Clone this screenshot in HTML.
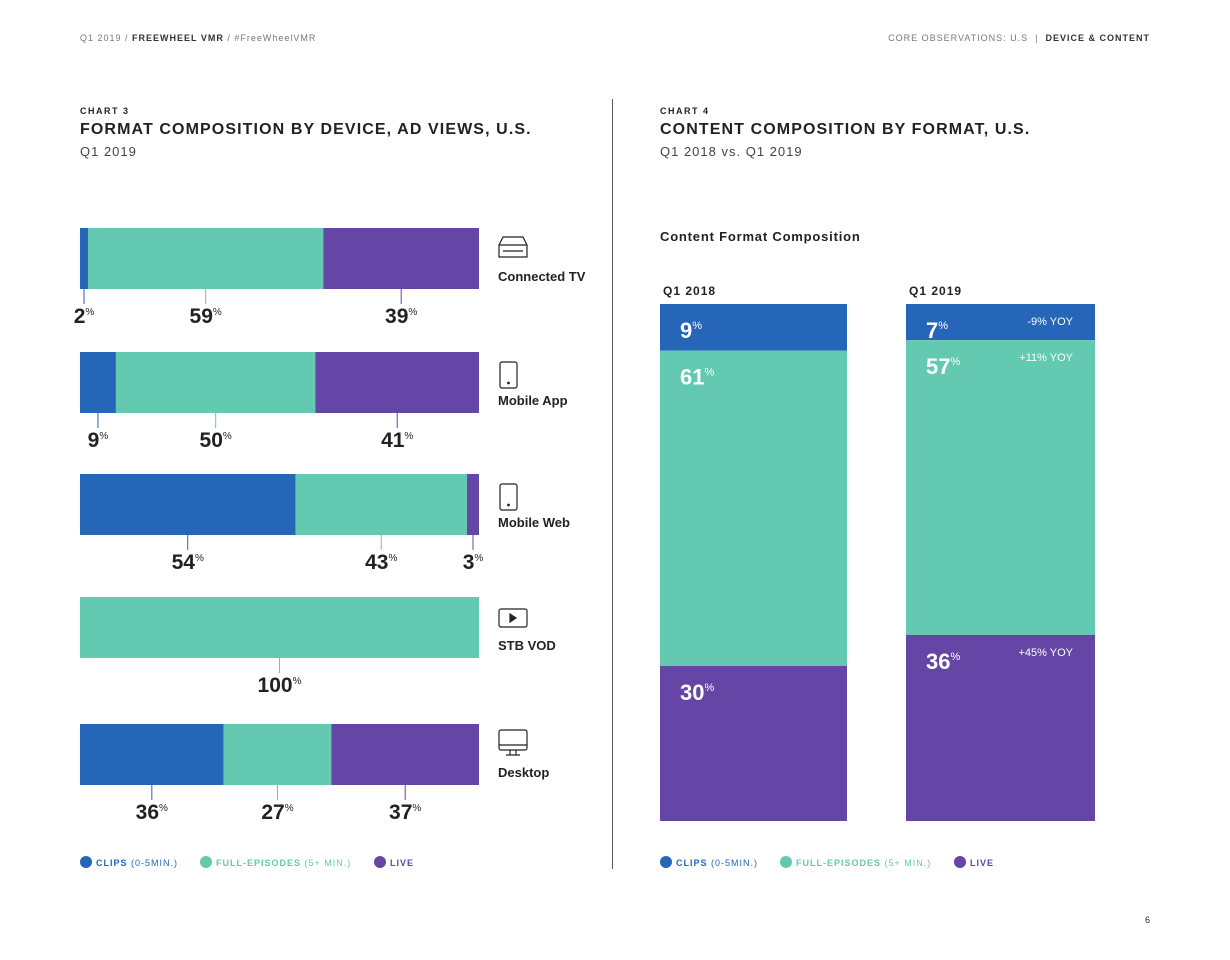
<!DOCTYPE html>
<html><head><meta charset="utf-8"><style>
body{margin:0;width:1230px;height:960px;background:#fff;font-family:"Liberation Sans",sans-serif;position:relative;overflow:hidden;color:#222}
.a{position:absolute;white-space:nowrap}
.hdr{font-size:9px;letter-spacing:1px;color:#777}
.ck{font-size:9px;font-weight:bold;letter-spacing:1.5px}
.tt{font-size:16px;font-weight:bold;letter-spacing:1.1px}
.st{font-size:13px;letter-spacing:1px;color:#444}
</style></head><body>
<div class="a hdr" style="left:80px;top:33px">Q1 2019 / <b style="color:#333">FREEWHEEL VMR</b> / #FreeWheelVMR</div>
<div class="a hdr" style="right:80px;top:33px">CORE OBSERVATIONS: U.S &nbsp;|&nbsp; <b style="color:#333">DEVICE &amp; CONTENT</b></div>
<div class="a" style="left:612px;top:99px;width:1px;height:770px;background:#555"></div>
<div class="a ck" style="left:80px;top:106px">CHART 3</div>
<div class="a tt" style="left:80px;top:121px">FORMAT COMPOSITION BY DEVICE, AD VIEWS, U.S.</div>
<div class="a st" style="left:80px;top:144px">Q1 2019</div>
<div class="a ck" style="left:660px;top:106px">CHART 4</div>
<div class="a tt" style="left:660px;top:121px">CONTENT COMPOSITION BY FORMAT, U.S.</div>
<div class="a st" style="left:660px;top:144px">Q1 2018 vs. Q1 2019</div>
<div class="a" style="left:660px;top:229px;font-size:13px;font-weight:bold;letter-spacing:0.8px">Content Format Composition</div>
<div class="a" style="right:80px;top:915px;font-size:9px">6</div>
<svg id="c" width="1230" height="960" style="position:absolute;left:0;top:0"></svg>
<script>
const devices=["Connected TV","Mobile App","Mobile Web","STB VOD","Desktop"];
const clips=[2,9,54,0,36];
const full=[59,50,43,100,27];
const live=[39,41,3,0,37];
const quarters=["Q1 2018","Q1 2019"];
const qClips=[9,7];
const qFull=[61,57];
const qLive=[30,36];
const yoy=["","","-9% YOY","+11% YOY","+45% YOY"];
const colors=["#2566b8","#64c9b1","#6545a5"];
const NS="http://www.w3.org/2000/svg",svg=document.getElementById("c");
const NUMF='"Liberation Sans Narrow","Liberation Sans",sans-serif';
function el(t,a,p){const e=document.createElementNS(NS,t);for(const k in a)e.setAttribute(k,a[k]);(p||svg).appendChild(e);return e;}
const rowY=[228,352,474,597,724],x0=80,W=399,H=61;
const xs=v=>v/100*W;
devices.forEach((d,i)=>{
 const vals=[clips[i],full[i],live[i]];let x=x0;
 vals.forEach((v,j)=>{if(!v)return;
  const r=el("rect",{x:x,y:rowY[i],width:xs(v),height:H,fill:colors[j]});
  
  
  const cx=x+xs(v)/2;
  const l=el("line",{x1:cx,y1:rowY[i]+H,x2:cx,y2:rowY[i]+H+15,stroke:colors[j],"stroke-width":1});
  
  
  const t=el("text",{x:cx,y:rowY[i]+H+34,"text-anchor":"middle","font-size":21,"font-weight":"bold",fill:"#222","font-family":NUMF});
  
  
  t.innerHTML=v+'<tspan font-size="10" font-weight="normal" dy="-8">%</tspan>';
  x+=xs(v);});
 const n=el("text",{x:498,y:rowY[i]+53,"font-size":13,"font-weight":"bold",fill:"#222"});
 
 
 n.textContent=d;
 const g=el("g",{fill:"none",stroke:"#222","stroke-width":1.2});
 
 
 const iy=rowY[i]+9;
 if(i==0){el("path",{d:`M499 ${iy+8}h28v12h-28z M499 ${iy+8}l4-8h20l4 8 M503 ${iy+14}h20`},g);}
 else if(i<3){el("rect",{x:500,y:iy+1,width:17,height:26,rx:2},g);el("circle",{cx:508.5,cy:iy+22,r:0.8,fill:"#222"},g);}
 else if(i==3){el("rect",{x:499,y:iy+3,width:28,height:18,rx:2},g);el("path",{d:`M510 ${iy+8}l6 4-6 4z`,fill:"#222"},g);}
 else{el("rect",{x:499,y:iy-3,width:28,height:20,rx:2},g);el("path",{d:`M499 ${iy+12}h28 M510 ${iy+17}v5 M516 ${iy+17}v5 M506 ${iy+22}h14`},g);}
});
const bx=[660,906],bw=[187,189],by=304,BH=517;
quarters.forEach((q,i)=>{
 const h=el("text",{x:bx[i]+3,y:295,"font-size":12,"font-weight":"bold","letter-spacing":1,fill:"#222"});
 
 
 h.textContent=q;
 const vals=[qClips[i],qFull[i],qLive[i]];let y=by;
 vals.forEach((v,j)=>{const hh=v/100*BH;
  const r=el("rect",{x:bx[i],y:y,width:bw[i],height:hh,fill:colors[j]});
  
  
  const t=el("text",{x:bx[i]+20,y:y+34,"font-size":22,"font-weight":"bold",fill:"#fff","font-family":NUMF});
  
  
  t.innerHTML=v+'<tspan font-size="11" font-weight="normal" dy="-9">%</tspan>';
  if(i==1){const yy=el("text",{x:1073,y:y+21,"text-anchor":"end","font-size":11,fill:"#fff","font-family":NUMF});
   
   
   yy.textContent=yoy[2+j];}
  y+=hh;});
});
const leg=[["CLIPS"," (0-5MIN.)"],["FULL-EPISODES"," (5+ MIN.)"],["LIVE",""]];
[[80,200,374],[660,780,954]].forEach(L=>{
 leg.forEach((lg,j)=>{
  const c=el("circle",{cx:L[j]+6,cy:862,r:6,fill:colors[j]});
  
  
  const t=el("text",{x:L[j]+16,y:866,"font-size":9,"letter-spacing":1,fill:colors[j]});
  
  
  t.innerHTML='<tspan font-weight="bold">'+lg[0]+'</tspan>'+lg[1];
 });
});
</script>
</body></html>
